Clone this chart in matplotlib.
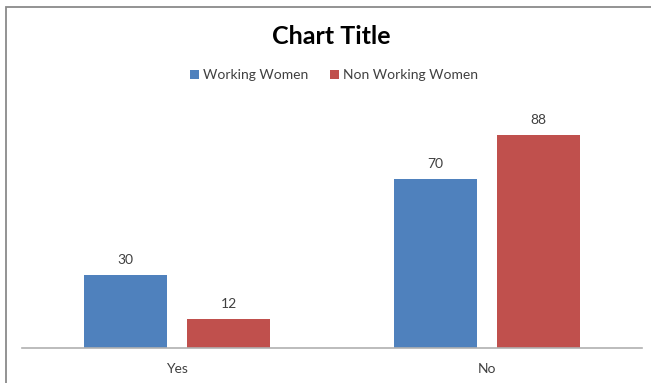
import matplotlib
matplotlib.use("Agg")
import matplotlib.pyplot as plt
from matplotlib.patches import Rectangle, Patch

categories = ["Yes", "No"]
series_names = ["Working Women", "Non Working Women"]
working = [30, 70]
non_working = [12, 88]

colors = ["#4F81BD", "#C0504D"]
font = "Lato"
plt.rcParams['font.family'] = [font, 'DejaVu Sans']

W, H = 651, 383
fig = plt.figure(figsize=(W / 100, H / 100), dpi=100)

# outer chart border
fig.patches.append(Rectangle((6 / W, -0.1), 1.2, (H - 6.5) / H + 0.1, transform=fig.transFigure,
                             fill=False, edgecolor="#8A8A8A", linewidth=1.3))

ax = fig.add_axes([22 / W, (H - 348) / H, (642 - 22) / W, (348 - 106) / H])
x = list(range(len(categories)))
bw = 0.267
off = 0.167
for vals, c, sgn, name in [(working, colors[0], -1, series_names[0]), (non_working, colors[1], 1, series_names[1])]:
    pos = [xi + sgn * off for xi in x]
    ax.bar(pos, vals, width=bw, color=c, label=name)
    for p, v in zip(pos, vals):
        ax.annotate(str(v), (p, v), xytext=(0, 6.5), textcoords="offset points",
                    ha="center", va="bottom", fontsize=10, color="#404040")

ax.set_xlim(-0.5, 1.5)
ax.set_ylim(0, 100)
ax.set_xticks(x)
ax.set_xticklabels(categories, fontsize=10, color="#404040")
ax.tick_params(axis="x", length=0, pad=11)
ax.set_yticks([])
for s in ["top", "right", "left"]:
    ax.spines[s].set_visible(False)
ax.spines["bottom"].set_color("#B0B0B0")
ax.spines["bottom"].set_linewidth(1.2)

fig.text(331 / W, 1 - 37 / H, "Chart Title", ha="center", va="center",
         fontsize=18, fontweight="bold", color="black")

handles = [Patch(facecolor=colors[0]), Patch(facecolor=colors[1])]
fig.legend(handles, series_names, loc="center", bbox_to_anchor=(334 / W, 1 - 75 / H), ncol=2,
           frameon=False, fontsize=10, handlelength=0.6, handleheight=0.6, handletextpad=0.3,
           columnspacing=1.6, labelcolor="#404040")

fig.savefig("out.png", dpi=100)
